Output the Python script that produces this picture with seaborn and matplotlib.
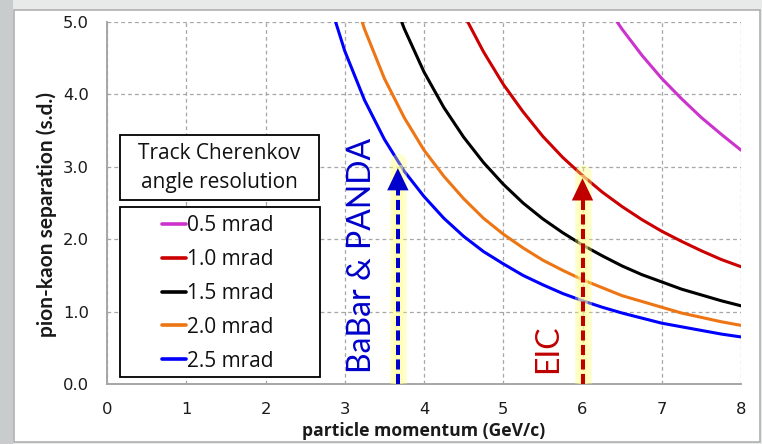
import numpy as np
import pandas as pd
import matplotlib
matplotlib.use("Agg")
import matplotlib.pyplot as plt
from matplotlib.patches import Rectangle
import seaborn as sns

nan = np.nan

# Particle momentum grid (GeV/c)
momentum = [2.75, 3.0, 3.25, 3.5, 3.75, 4.0, 4.25, 4.5, 4.75, 5.0, 5.25,
            5.5, 5.75, 6.0, 6.25, 6.5, 6.75, 7.0, 7.25, 7.5, 7.75, 8.0]

# Pion-kaon separation (standard deviations) per Cherenkov angle resolution
sep_05 = [nan] * 14 + [5.30, 4.90, 4.54, 4.22, 3.94, 3.68, 3.45, 3.23]
sep_10 = [nan] * 6 + [5.73, 5.11, 4.59, 4.14, 3.76, 3.42, 3.13, 2.88,
                      2.65, 2.45, 2.27, 2.11, 1.97, 1.84, 1.72, 1.62]
sep_15 = [nan] * 3 + [5.63, 4.91, 4.31, 3.82, 3.41, 3.06, 2.76, 2.50, 2.28,
                      2.09, 1.92, 1.77, 1.63, 1.51, 1.41, 1.31, 1.23, 1.15, 1.08]
sep_20 = [nan] + [5.75, 4.90, 4.22, 3.68, 3.23, 2.87, 2.56, 2.29, 2.07, 1.88,
                  1.71, 1.57, 1.44, 1.33, 1.22, 1.14, 1.06, 0.98, 0.92, 0.86, 0.81]
sep_25 = [5.47, 4.60, 3.92, 3.38, 2.94, 2.59, 2.29, 2.04, 1.83, 1.66, 1.50,
          1.37, 1.25, 1.15, 1.06, 0.98, 0.91, 0.84, 0.79, 0.74, 0.69, 0.65]

resolutions = ["0.5 mrad", "1.0 mrad", "1.5 mrad", "2.0 mrad", "2.5 mrad"]
line_colors = ["#cc33cc", "#cc0000", "#000000", "#ee7514", "#0000ff"]

# Experiment reference momenta and separations reached there
experiments = ["BaBar & PANDA", "EIC"]
exp_momentum = [3.67, 6.0]
exp_separation = [3.02, 2.88]
exp_colors = ["#0000cc", "#c00000"]
exp_text_x = [3.22, 5.56]

x_ticks = [0, 1, 2, 3, 4, 5, 6, 7, 8]
y_ticks = [0.0, 1.0, 2.0, 3.0, 4.0, 5.0]

rows = []
for label, values in zip(resolutions, [sep_05, sep_10, sep_15, sep_20, sep_25]):
    for p, s in zip(momentum, values):
        rows.append({"momentum": p, "separation": s, "resolution": label})
df = pd.DataFrame(rows).dropna()

sns.set_style("white")
plt.rcParams["font.family"] = ["Open Sans", "DejaVu Sans"]

W, H = 762, 444
fig = plt.figure(figsize=(W / 100, H / 100), dpi=100)
fig.patch.set_facecolor("#e8eaea")

def fx(px):
    return px / W

def fy(py):
    return 1 - py / H

# Slide-like backdrop
fig.patches.append(Rectangle((0, 0), fx(13), 1, transform=fig.transFigure,
                             facecolor="#c8cccc", edgecolor="none", zorder=-2))
fig.patches.append(Rectangle((fx(14), fy(442)), fx(760) - fx(14), fy(10) - fy(442),
                             transform=fig.transFigure, facecolor="white",
                             edgecolor="#b0b0b0", lw=1.2, zorder=-2))

ax = fig.add_axes([fx(107), fy(384), fx(741) - fx(107), fy(22) - fy(384)])
ax.set_facecolor("none")

sns.lineplot(data=df, x="momentum", y="separation", hue="resolution",
             hue_order=resolutions, palette=line_colors, estimator=None,
             sort=False, lw=2.2, ax=ax, zorder=3)

ax.set_xlim(0, 8)
ax.set_ylim(0, 5)
ax.set_xticks(x_ticks)
ax.set_xticklabels([str(t) for t in x_ticks], family="DejaVu Sans")
ax.set_yticks(y_ticks)
ax.set_yticklabels([f"{t:.1f}" for t in y_ticks], family="DejaVu Sans")
ax.tick_params(axis="both", labelsize=11.8, colors="#a6a6a6", labelcolor="#1a1a1a",
               direction="inout", length=8, width=1.1)
ax.tick_params(axis="y", pad=9)
ax.tick_params(axis="x", pad=9)
ax.grid(True, color="#a6a6a6", ls=(0, (3, 2.5)), lw=0.9)
for side in ["top", "right"]:
    ax.spines[side].set_visible(False)
for side in ["left", "bottom"]:
    ax.spines[side].set_color("#a6a6a6")
    ax.spines[side].set_linewidth(1.4)

ax.set_xlabel("particle momentum (GeV/c)", fontsize=12.6, fontweight="bold",
              color="#1a1a1a")
ax.set_ylabel("pion-kaon separation (s.d.)", fontsize=15, fontweight="bold",
              family="Lato", color="#1a1a1a")
ax.xaxis.set_label_coords(0.5, -0.106)
ax.yaxis.set_label_coords(-0.079, 0.467)

# Arrows marking experiment momenta
for name, p, s, c, tx in zip(experiments, exp_momentum, exp_separation,
                             exp_colors, exp_text_x):
    ax.plot([p, p], [0, s + 0.04], color="#ffff70", alpha=0.35, lw=12,
            solid_capstyle="round", zorder=4)
    ax.plot([p, p], [0, s], color="#ffffa0", alpha=0.5, lw=7,
            solid_capstyle="butt", zorder=4)
    ax.plot([p, p], [0, s - 0.18], color=c, lw=2.9, ls=(0, (2.5, 1.1)),
            solid_capstyle="butt", zorder=5)
    ax.annotate("", xy=(p, s), xytext=(p, s - 0.21),
                arrowprops=dict(arrowstyle="-|>,head_length=1.0,head_width=0.48",
                                color=c, lw=0, mutation_scale=16),
                zorder=5)
    ax.text(tx, 0.15, name, rotation=90, ha="center", va="bottom",
            fontsize=23, family="Lato", color=c, zorder=5)

# Legend title box
ax.add_patch(Rectangle((fx(120), fy(200)), fx(319) - fx(120), fy(135) - fy(200),
                       transform=fig.transFigure, facecolor="white",
                       edgecolor="black", lw=1.3, clip_on=False, zorder=6))
fig.text(fx(219.5), fy(168), "Track Cherenkov\nangle resolution",
         ha="center", va="center", fontsize=15, linespacing=1.45,
         color="#111111", zorder=7)

# Legend entries box
ax.add_patch(Rectangle((fx(120), fy(377)), fx(320) - fx(120), fy(207) - fy(377),
                       transform=fig.transFigure, facecolor="white",
                       edgecolor="black", lw=1.3, clip_on=False, zorder=6))
sns.move_legend(ax, loc="upper left", bbox_to_anchor=(fx(162), fy(215)),
                bbox_transform=fig.transFigure, title=None, frameon=False,
                fontsize=15, handlelength=1.15, handletextpad=0.05,
                labelspacing=0.62, borderpad=0, borderaxespad=0)
leg = ax.get_legend()
leg.set_zorder(8)
for t in leg.get_texts():
    t.set_color("#111111")
for h in leg.legend_handles:
    h.set_linewidth(2.6)

fig.savefig("out.png", dpi=100, facecolor=fig.get_facecolor())
